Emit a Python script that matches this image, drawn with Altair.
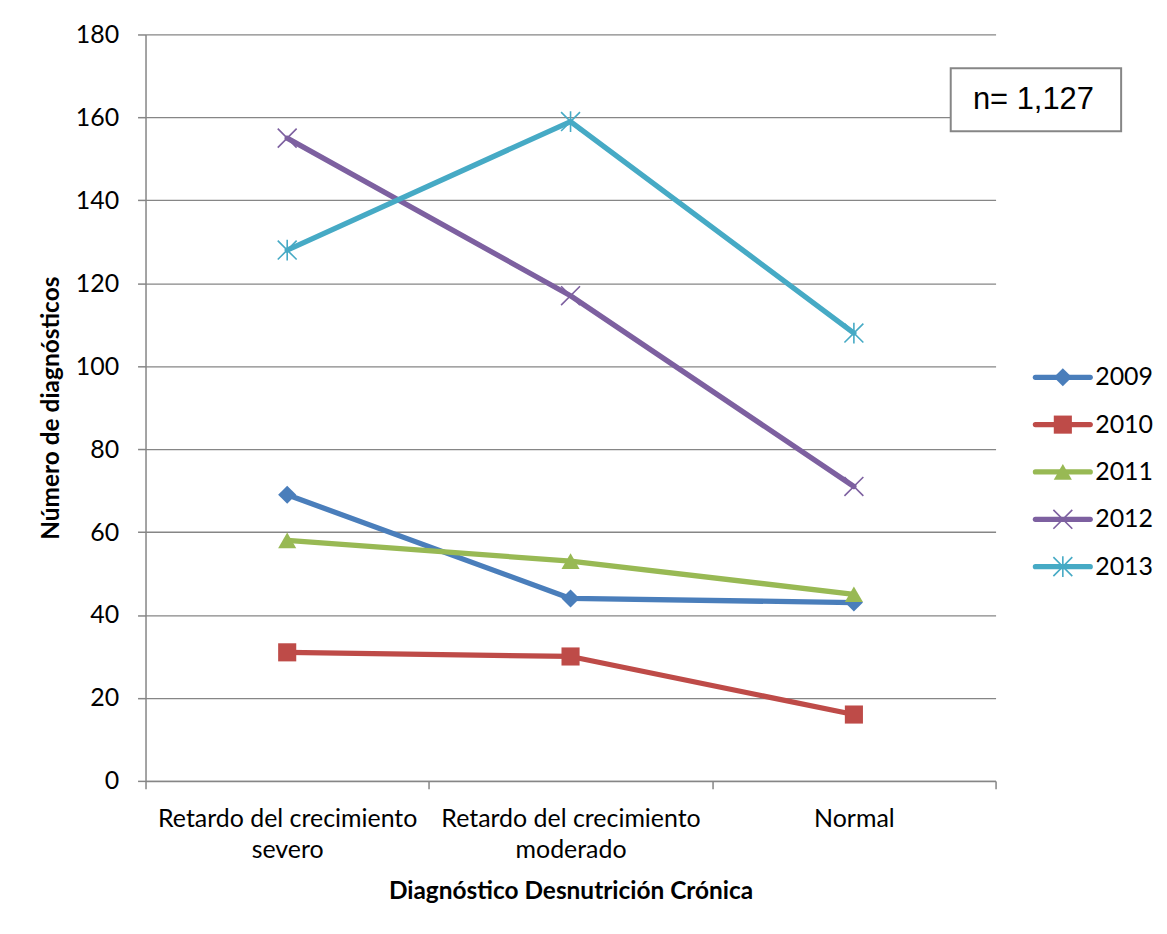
import altair as alt
import pandas as pd

# ---- data ----
categories = ["Retardo del crecimiento\nsevero", "Retardo del crecimiento\nmoderado", "Normal"]
years = ["2009", "2010", "2011", "2012", "2013"]
values_2009 = [69, 44, 43]
values_2010 = [31, 30, 16]
values_2011 = [58, 53, 45]
values_2012 = [155, 117, 71]
values_2013 = [128, 159, 108]
y_ticks = [0, 20, 40, 60, 80, 100, 120, 140, 160, 180]
note_text = "n= 1,127"

# ---- styling ----
colors = ["#4A7EBB", "#BE4B48", "#98B954", "#7D60A0", "#46AAC5"]
shapes = ["diamond", "square", "triangle-up",
          "M-1,-1L1,1M-1,1L1,-1",
          "M-1,-1L1,1M-1,1L1,-1M0,-1.1L0,1.1"]
filled_years = ["2009", "2010", "2011"]
stroked_years = ["2012", "2013"]
FONT = "Lato"
GRAY = "#868686"

series = [values_2009, values_2010, values_2011, values_2012, values_2013]
df = pd.DataFrame([
    {"cat": c, "year": y, "value": v}
    for y, vals in zip(years, series)
    for c, v in zip(categories, vals)
])

color_scale = alt.Scale(domain=years, range=colors)
shape_scale = alt.Scale(domain=years, range=shapes)

x_enc = alt.X(
    "cat:N", sort=categories,
    scale=alt.Scale(type="band", paddingInner=0, paddingOuter=0),
    axis=alt.Axis(title="Diagnóstico Desnutrición Crónica", labelAngle=0,
                  tickBand="extent", labelExpr="split(datum.label, '\\n')",
                  labelLimit=500, labelLineHeight=31, labelPadding=18,
                  titlePadding=17, grid=False),
)
y_enc = alt.Y(
    "value:Q",
    scale=alt.Scale(domain=[0, 180], nice=False, zero=True),
    axis=alt.Axis(title="Número de diagnósticos", values=y_ticks, grid=True,
                  labelPadding=19, titlePadding=12),
)

base = alt.Chart(df)
lines = base.mark_line(strokeWidth=5.3, strokeCap="round", strokeJoin="round").encode(
    x=x_enc, y=y_enc,
    color=alt.Color("year:N", scale=color_scale, legend=None),
)
pts_filled = base.transform_filter(
    alt.FieldOneOfPredicate(field="year", oneOf=filled_years)
).mark_point(filled=True, size=330, opacity=1).encode(
    x=x_enc, y=y_enc,
    color=alt.Color("year:N", scale=color_scale, legend=None),
    shape=alt.Shape("year:N", scale=shape_scale, legend=None),
)
pts_stroked = base.transform_filter(
    alt.FieldOneOfPredicate(field="year", oneOf=stroked_years)
).mark_point(filled=False, size=360, strokeWidth=1.6, opacity=1).encode(
    x=x_enc, y=y_enc,
    color=alt.Color("year:N", scale=color_scale, legend=None),
    shape=alt.Shape("year:N", scale=shape_scale, legend=None),
)

note_box = alt.Chart(pd.DataFrame({"t": [note_text]})).mark_rect(
    fill="white", stroke=GRAY, strokeWidth=2
).encode(x=alt.value(808), x2=alt.value(979), y=alt.value(34), y2=alt.value(97))
note_txt = alt.Chart(pd.DataFrame({"t": [note_text]})).mark_text(
    font="Liberation Sans", fontSize=31, color="black", align="center", baseline="middle"
).encode(x=alt.value(891), y=alt.value(66), text="t:N")

main = alt.layer(lines, pts_filled, pts_stroked, note_box, note_txt).properties(
    width=853, height=749
)

# ---- legend drawn as a small chart ----
leg_lines = pd.DataFrame([{"year": y, "pos": p} for y in years for p in (0, 1)])
leg_pts = pd.DataFrame([{"year": y, "pos": 0.5} for y in years])
leg_txt = pd.DataFrame([{"year": y, "pos": 1} for y in years])

lx = alt.X("pos:Q", scale=alt.Scale(domain=[0, 1]), axis=None)
ly = alt.Y("year:N", sort=years, scale=alt.Scale(type="point", range=[344, 534], padding=0), axis=None)

l1 = alt.Chart(leg_lines).mark_line(strokeWidth=5.3, strokeCap="round").encode(
    x=lx, y=ly, color=alt.Color("year:N", scale=color_scale, legend=None), detail="year:N")
l2 = alt.Chart(leg_pts).transform_filter(
    alt.FieldOneOfPredicate(field="year", oneOf=filled_years)
).mark_point(filled=True, size=330, opacity=1).encode(
    x=lx, y=ly, color=alt.Color("year:N", scale=color_scale, legend=None),
    shape=alt.Shape("year:N", scale=shape_scale, legend=None))
l3 = alt.Chart(leg_pts).transform_filter(
    alt.FieldOneOfPredicate(field="year", oneOf=stroked_years)
).mark_point(filled=False, size=360, strokeWidth=1.6, opacity=1).encode(
    x=lx, y=ly, color=alt.Color("year:N", scale=color_scale, legend=None),
    shape=alt.Shape("year:N", scale=shape_scale, legend=None))
l4 = alt.Chart(leg_txt).mark_text(align="left", baseline="middle", dx=5, fontSize=25,
                                  font=FONT, color="black").encode(x=lx, y=ly, text="year:N")

legend = alt.layer(l1, l2, l3, l4).properties(width=55, height=749)

chart = alt.hconcat(main, legend, spacing=40, bounds="flush").properties(
    padding={"left": 30, "top": 13, "right": 5, "bottom": 5}
).configure_view(stroke=None).configure_axis(
    domainColor=GRAY, domainWidth=1.5, gridColor=GRAY, gridWidth=1.3,
    tickColor=GRAY, tickWidth=1.5, tickSize=8,
    labelFont=FONT, labelFontSize=25, labelColor="black",
    titleFont=FONT, titleFontSize=24.5, titleFontWeight="bold", titleColor="black",
).configure_scale(bandPaddingInner=0)

chart.save("out.html", embed_options={"renderer": "svg", "actions": False})
